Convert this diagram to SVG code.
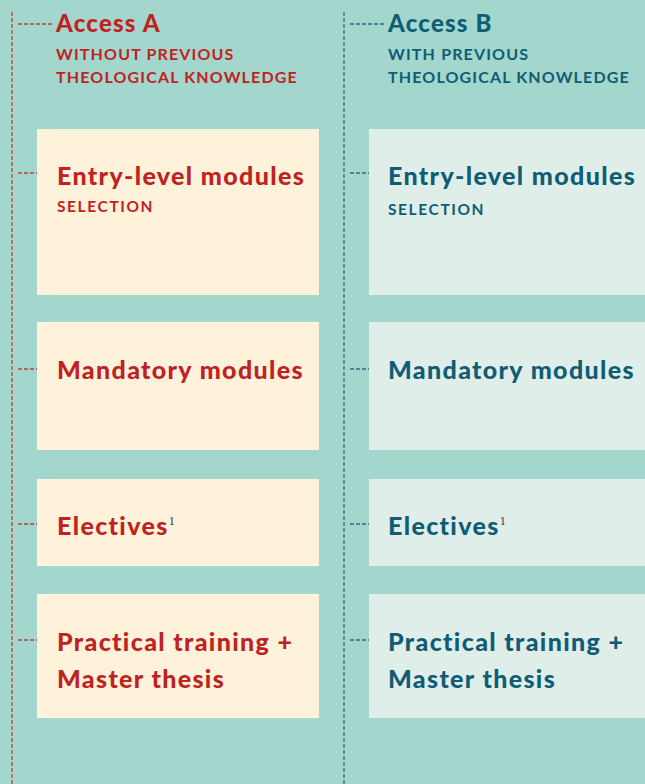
<svg xmlns="http://www.w3.org/2000/svg" width="645" height="784" viewBox="0 0 645 784">
<style>
.a{fill:#c0221f}
.b{fill:#0f5d74}
.t{font-family:Lato,"Open Sans","Liberation Sans",sans-serif;font-weight:bold}
.h{font-size:24px;letter-spacing:1.2px;font-weight:900}
.s{font-size:16px;letter-spacing:1.15px}
.m{font-size:25px;letter-spacing:1.35px;font-weight:900}
.c{font-size:15.5px;letter-spacing:1.6px}
.bxA{fill:#fef2da}
.bxB{fill:#e0eeea}
.la{stroke:#c0403a;stroke-width:1.3;stroke-dasharray:4 2;fill:none}
.lb{stroke:#2a6f84;stroke-width:1.3;stroke-dasharray:4 2;fill:none}
.sup{font-family:"Liberation Serif",serif;font-size:12px;font-weight:normal;letter-spacing:0;fill:#333}
</style>
<rect width="645" height="784" fill="#a3d6cc"/>
<g id="connectors">
<path class="la" d="M12 12V784M18 24H52M18 173H37M18 369H37M18 524H37M18 640H37"/>
<path class="lb" d="M344 12V784M350 24H384M350 173H369M350 369H369M350 524H369M350 640H369"/>
</g>
<g id="accessA">
<text class="t h a" x="56" y="32">Access A</text>
<text class="t s a" x="56" y="60">WITHOUT PREVIOUS</text>
<text class="t s a" x="56" y="83">THEOLOGICAL KNOWLEDGE</text>
</g>
<g id="accessB">
<text class="t h b" x="388" y="32">Access B</text>
<text class="t s b" x="388" y="60">WITH PREVIOUS</text>
<text class="t s b" x="388" y="83">THEOLOGICAL KNOWLEDGE</text>
</g>
<g id="a-entry">
<rect class="bxA" x="37" y="129" width="282" height="166"/>
<text class="t m a" x="57" y="185">Entry-level modules</text>
<text class="t c a" x="57" y="212">SELECTION</text>
</g>
<g id="a-mandatory">
<rect class="bxA" x="37" y="322" width="282" height="128"/>
<text class="t m a" x="57" y="379">Mandatory modules</text>
</g>
<g id="a-electives">
<rect class="bxA" x="37" y="479" width="282" height="87"/>
<text class="t m a" x="57" y="535">Electives<tspan class="sup" dy="-10">1</tspan></text>
</g>
<g id="a-practical">
<rect class="bxA" x="37" y="594" width="282" height="124"/>
<text class="t m a" x="57" y="651">Practical training +</text>
<text class="t m a" x="57" y="688">Master thesis</text>
</g>
<g id="b-entry">
<rect class="bxB" x="369" y="129" width="276" height="166"/>
<text class="t m b" x="388" y="185">Entry-level modules</text>
<text class="t c b" x="388" y="215">SELECTION</text>
</g>
<g id="b-mandatory">
<rect class="bxB" x="369" y="322" width="276" height="128"/>
<text class="t m b" x="388" y="379">Mandatory modules</text>
</g>
<g id="b-electives">
<rect class="bxB" x="369" y="479" width="276" height="87"/>
<text class="t m b" x="388" y="535">Electives<tspan class="sup" dy="-10">1</tspan></text>
</g>
<g id="b-practical">
<rect class="bxB" x="369" y="594" width="276" height="124"/>
<text class="t m b" x="388" y="651">Practical training +</text>
<text class="t m b" x="388" y="688">Master thesis</text>
</g>
</svg>
